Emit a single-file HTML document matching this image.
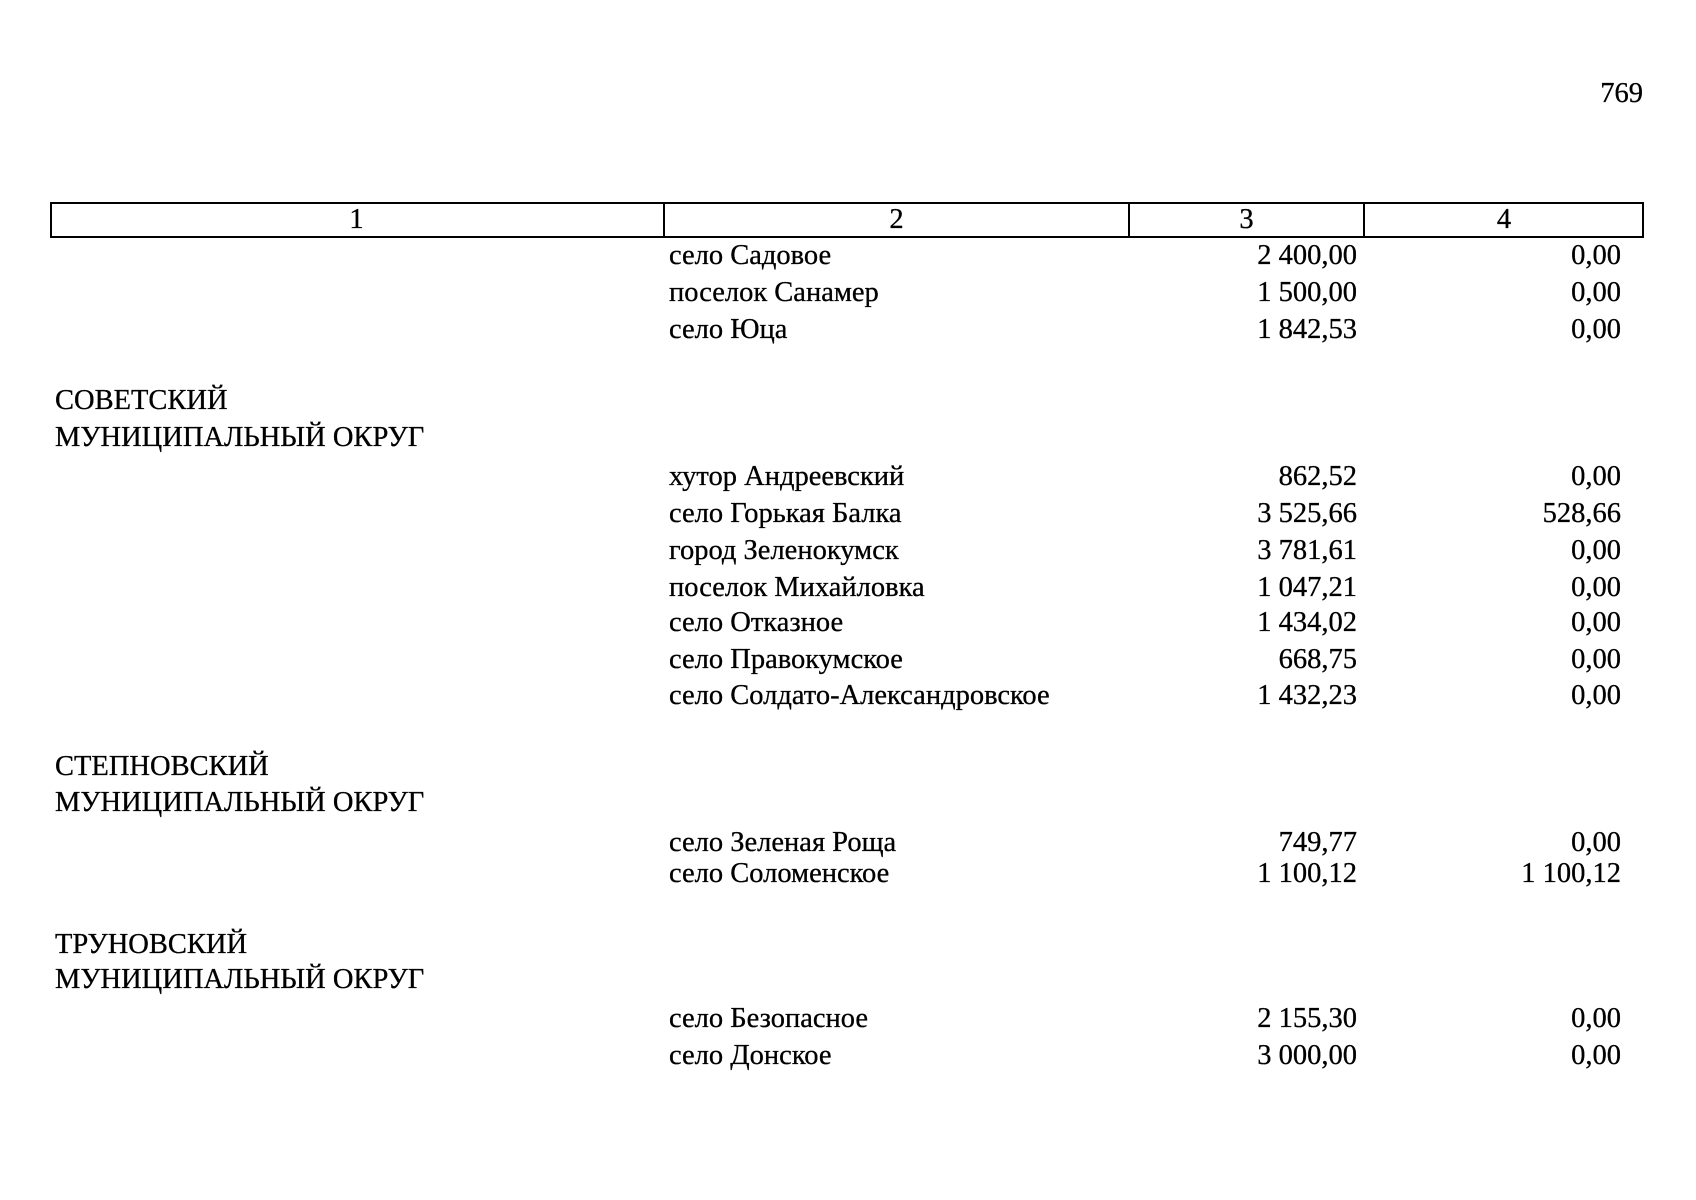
<!DOCTYPE html>
<html><head><meta charset="utf-8"><style>
body{margin:0;width:1696px;height:1200px;background:#fff;position:relative;overflow:hidden;font-family:"Liberation Serif",serif;font-size:28.5px;color:#000}
.t{position:absolute;line-height:30px;white-space:nowrap;-webkit-text-stroke:0.3px #000}
.r{text-align:right}
</style></head><body>
<div class="t" style="left:1580px;top:79px;width:63px;text-align:right">769</div>
<div style="position:absolute;left:50px;top:202px;width:1594px;height:36px;border:2px solid #000;box-sizing:border-box"></div>
<div style="position:absolute;left:663px;top:202px;width:2px;height:36px;background:#000"></div>
<div style="position:absolute;left:1128px;top:202px;width:2px;height:36px;background:#000"></div>
<div style="position:absolute;left:1363px;top:202px;width:2px;height:36px;background:#000"></div>
<div class="t" style="left:50px;width:613px;top:205px;text-align:center">1</div>
<div class="t" style="left:665px;width:463px;top:205px;text-align:center">2</div>
<div class="t" style="left:1130px;width:233px;top:205px;text-align:center">3</div>
<div class="t" style="left:1365px;width:278px;top:205px;text-align:center">4</div>

<div class="t" style="left:669px;top:241px">село Садовое</div><div class="t r" style="left:1157px;width:200px;top:241px">2 400,00</div><div class="t r" style="left:1421px;width:200px;top:241px">0,00</div>
<div class="t" style="left:669px;top:278px">поселок Санамер</div><div class="t r" style="left:1157px;width:200px;top:278px">1 500,00</div><div class="t r" style="left:1421px;width:200px;top:278px">0,00</div>
<div class="t" style="left:669px;top:315px">село Юца</div><div class="t r" style="left:1157px;width:200px;top:315px">1 842,53</div><div class="t r" style="left:1421px;width:200px;top:315px">0,00</div>

<div class="t" style="left:55px;top:386px">СОВЕТСКИЙ</div>
<div class="t" style="left:55px;top:423px">МУНИЦИПАЛЬНЫЙ ОКРУГ</div>
<div class="t" style="left:669px;top:462px">хутор Андреевский</div><div class="t r" style="left:1157px;width:200px;top:462px">862,52</div><div class="t r" style="left:1421px;width:200px;top:462px">0,00</div>
<div class="t" style="left:669px;top:499px">село Горькая Балка</div><div class="t r" style="left:1157px;width:200px;top:499px">3 525,66</div><div class="t r" style="left:1421px;width:200px;top:499px">528,66</div>
<div class="t" style="left:669px;top:536px">город Зеленокумск</div><div class="t r" style="left:1157px;width:200px;top:536px">3 781,61</div><div class="t r" style="left:1421px;width:200px;top:536px">0,00</div>
<div class="t" style="left:669px;top:573px">поселок Михайловка</div><div class="t r" style="left:1157px;width:200px;top:573px">1 047,21</div><div class="t r" style="left:1421px;width:200px;top:573px">0,00</div>
<div class="t" style="left:669px;top:608px">село Отказное</div><div class="t r" style="left:1157px;width:200px;top:608px">1 434,02</div><div class="t r" style="left:1421px;width:200px;top:608px">0,00</div>
<div class="t" style="left:669px;top:645px">село Правокумское</div><div class="t r" style="left:1157px;width:200px;top:645px">668,75</div><div class="t r" style="left:1421px;width:200px;top:645px">0,00</div>
<div class="t" style="left:669px;top:681px">село Солдато-Александровское</div><div class="t r" style="left:1157px;width:200px;top:681px">1 432,23</div><div class="t r" style="left:1421px;width:200px;top:681px">0,00</div>

<div class="t" style="left:55px;top:752px">СТЕПНОВСКИЙ</div>
<div class="t" style="left:55px;top:788px">МУНИЦИПАЛЬНЫЙ ОКРУГ</div>
<div class="t" style="left:669px;top:828px">село Зеленая Роща</div><div class="t r" style="left:1157px;width:200px;top:828px">749,77</div><div class="t r" style="left:1421px;width:200px;top:828px">0,00</div>
<div class="t" style="left:669px;top:859px">село Соломенское</div><div class="t r" style="left:1157px;width:200px;top:859px">1 100,12</div><div class="t r" style="left:1421px;width:200px;top:859px">1 100,12</div>

<div class="t" style="left:55px;top:930px">ТРУНОВСКИЙ</div>
<div class="t" style="left:55px;top:965px">МУНИЦИПАЛЬНЫЙ ОКРУГ</div>
<div class="t" style="left:669px;top:1004px">село Безопасное</div><div class="t r" style="left:1157px;width:200px;top:1004px">2 155,30</div><div class="t r" style="left:1421px;width:200px;top:1004px">0,00</div>
<div class="t" style="left:669px;top:1041px">село Донское</div><div class="t r" style="left:1157px;width:200px;top:1041px">3 000,00</div><div class="t r" style="left:1421px;width:200px;top:1041px">0,00</div>
</body></html>
